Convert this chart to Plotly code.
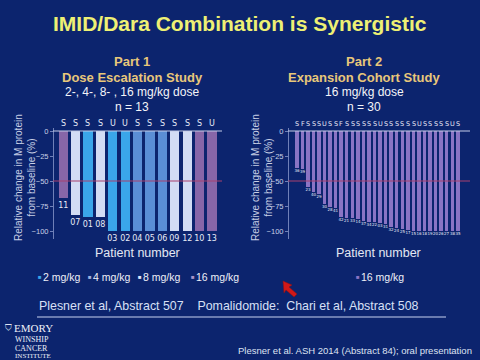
import plotly.graph_objects as go

# ---------------- data ----------------
left_patients = ["11", "07", "01", "08", "03", "02", "04", "05", "06", "09", "12", "10", "13"]
left_change = [-67, -84, -86, -86, -100, -100, -100, -100, -100, -100, -100, -100, -100]
left_dose = [16, 8, 2, 8, 2, 2, 4, 4, 4, 8, 8, 16, 16]
left_status = ["S", "S", "S", "S", "U", "U", "S", "S", "S", "S", "S", "S", "U"]

right_patients = ["36", "39", "23", "40", "29", "30", "28", "41", "42", "21",
                  "33", "14", "37", "34", "22", "03", "31", "32", "24", "25",
                  "17", "15", "16", "18", "19", "20", "26", "27", "38", "35"]
right_change = [-37, -38, -56, -61, -63, -73, -76, -77, -86, -87,
                -87, -88, -90, -91, -91, -92, -93, -96, -97, -98,
                -99, -100, -100, -100, -100, -100, -100, -100, -100, -100]
right_status = list("SFSSSUSSFSSSSSSUSSSSSSUSSSSSUS")

dose_labels = ["2 mg/kg", "4 mg/kg", "8 mg/kg", "16 mg/kg"]
dose_values = [2, 4, 8, 16]
y_ticks = [0, -25, -50, -75, -100]

# ---------------- style ----------------
BG = "#0c246e"
dose_colors = {2: "#3aa6ea", 4: "#5a8ed6", 8: "#d2dcf4", 16: "#8766a8"}
legend_marker_colors = {2: "#3aa6ea", 4: "#9fb4e0", 8: "#dfe6f8", 16: "#a994c8"}
right_color = "#8a74c4"
TXT = "#c8d0e6"


def px(x):
    return x / 480


def py(y):
    return 1 - y / 360


fig = go.Figure()

# left panel bars
fig.add_trace(go.Bar(
    x=list(range(len(left_patients))), y=left_change,
    marker=dict(color=[dose_colors[d] for d in left_dose], line=dict(width=0)),
    width=0.75, text=left_patients, textposition="outside",
    textfont=dict(size=8, color="#e8ecf8", family="DejaVu Sans"),
    constraintext="none", cliponaxis=False,
    xaxis="x", yaxis="y", showlegend=False, hoverinfo="skip"))

# right panel bars
fig.add_trace(go.Bar(
    x=list(range(len(right_patients))), y=right_change,
    marker=dict(color=right_color, line=dict(width=0)),
    width=0.62, text=right_patients, textposition="outside",
    textfont=dict(size=4, color="#e8ecf8", family="DejaVu Sans"),
    constraintext="none", cliponaxis=False,
    xaxis="x2", yaxis="y2", showlegend=False, hoverinfo="skip"))

yaxis_common = dict(
    range=[-108, 3], tickvals=y_ticks, ticks="outside", ticklen=3,
    tickcolor="#6f80b8", showline=True, linecolor="#6f80b8", linewidth=1,
    showgrid=False, zeroline=False,
    tickfont=dict(size=7.5, color=TXT, family="Liberation Sans"),
    domain=[py(239), py(128)], anchor="free")

fig.update_layout(
    width=480, height=360,
    margin=dict(l=0, r=0, t=0, b=0),
    paper_bgcolor=BG, plot_bgcolor=BG,
    bargap=0,
    xaxis=dict(domain=[px(56.8), px(218)], range=[-0.5, 12.5],
               showticklabels=False, showgrid=False, zeroline=False,
               showline=False, ticks="", anchor="y"),
    yaxis=dict(position=px(53), **yaxis_common),
    xaxis2=dict(domain=[px(294.2), px(460.8)], range=[-0.5, 29.5],
                showticklabels=False, showgrid=False, zeroline=False,
                showline=False, ticks="", anchor="y2"),
    yaxis2=dict(position=px(288), **yaxis_common),
)

shapes = []
# zero lines and -50 reference lines
for (x0, x1, yr) in [(53, 222, "y"), (288, 470, "y2")]:
    shapes.append(dict(type="line", xref="paper", yref=yr, x0=px(x0), x1=px(x1),
                       y0=0, y1=0, line=dict(color="#c4cce8", width=1)))
    shapes.append(dict(type="line", xref="paper", yref=yr, x0=px(x0), x1=px(x1),
                       y0=-50, y1=-50, line=dict(color="#a8406e", width=1)))
# citation underline
shapes.append(dict(type="line", xref="paper", yref="paper", x0=px(37), x1=px(446),
                   y0=py(317), y1=py(317), line=dict(color="#c8d2f0", width=1)))
# red cursor arrow
arrow = [(283, 281), (292, 285), (289, 287), (297, 294), (294, 297), (286, 290), (284, 293)]
path = "M " + " L ".join(f"{px(a)},{py(b)}" for a, b in arrow) + " Z"
shapes.append(dict(type="path", xref="paper", yref="paper", path=path,
                   fillcolor="#d01818", line=dict(color="#901010", width=0.5)))
fig.update_layout(shapes=shapes)

ann = []

# response letters above bars (data-anchored)
for i, s in enumerate(left_status):
    ann.append(dict(x=i, y=0, xref="x", yref="y", text=s, showarrow=False,
                    yanchor="bottom", yshift=1,
                    font=dict(size=8, color="#e8ecf8", family="DejaVu Sans")))
for i, s in enumerate(right_status):
    ann.append(dict(x=i, y=0, xref="x2", yref="y2", text=s, showarrow=False,
                    yanchor="bottom", yshift=1,
                    font=dict(size=6.5, color="#e8ecf8", family="DejaVu Sans")))


def add_text(x, y, text, size, color, bold=False, family="Liberation Sans", xanchor="center", angle=0):
    ann.append(dict(x=px(x), y=py(y), xref="paper", yref="paper", text=(f"<b>{text}</b>" if bold else text),
                    showarrow=False, xanchor=xanchor, yanchor="middle", textangle=angle,
                    font=dict(size=size, color=color, family=family)))


add_text(240, 23, "IMID/Dara Combination is Synergistic", 21, "#eef074", bold=True)

add_text(132, 61, "Part 1", 13, "#e8c77a", bold=True)
add_text(132, 77, "Dose Escalation Study", 13, "#e8c77a", bold=True)
add_text(132, 92, "2-, 4-, 8- , 16 mg/kg dose", 12, "#f4f4f8")
add_text(132, 107, "n = 13", 12, "#f4f4f8")

add_text(364, 61, "Part 2", 13, "#e8c77a", bold=True)
add_text(364, 77, "Expansion Cohort Study", 13, "#e8c77a", bold=True)
add_text(364, 92, "16 mg/kg dose", 12, "#f4f4f8")
add_text(364, 107, "n = 30", 12, "#f4f4f8")

ytitle = "Relative change in M protein<br>from baseline (%)"
add_text(25, 178, ytitle, 10, TXT, angle=-90)
add_text(262, 178, ytitle, 10, TXT, angle=-90)

add_text(137, 253, "Patient number", 12.5, "#e4e8f4")
add_text(378, 253, "Patient number", 12.5, "#e4e8f4")

# legends
legend_x = [36, 86, 136, 189]
for lx, lab, d in zip(legend_x, dose_labels, dose_values):
    add_text(lx, 277, "■", 6, legend_marker_colors[d], xanchor="left")
    add_text(lx + 5, 277, lab, 10.5, "#eef0f8", xanchor="left")
add_text(354, 277, "■", 6, right_color, xanchor="left")
add_text(359, 277, dose_labels[3], 10.5, "#eef0f8", xanchor="left")

add_text(37, 306, "Plesner et al, Abstract 507\u00a0\u00a0\u00a0\u00a0Pomalidomide:\u00a0\u00a0Chari et al, Abstract 508",
         12.4, "#d8e0f6", xanchor="left")

add_text(3, 328, "⛉", 9, "#dfe4f2", family="DejaVu Sans", xanchor="left")
add_text(12, 328, "EMORY", 11, "#eef0f8", family="Liberation Serif", xanchor="left")
add_text(13, 339, "WINSHIP", 8, "#eef0f8", family="Liberation Serif", xanchor="left")
add_text(13, 348, "CANCER", 8, "#eef0f8", family="Liberation Serif", xanchor="left")
add_text(13, 356, "INSTITUTE", 7, "#eef0f8", family="Liberation Serif", xanchor="left")

add_text(474, 350, "Plesner et al. ASH 2014 (Abstract 84); oral presentation", 9.5, "#dde2f2", xanchor="right")

fig.update_layout(annotations=ann)

fig.write_html("out.html", config={"displayModeBar": False},
               post_script="document.body.style.margin='0';document.body.style.overflow='hidden';")
